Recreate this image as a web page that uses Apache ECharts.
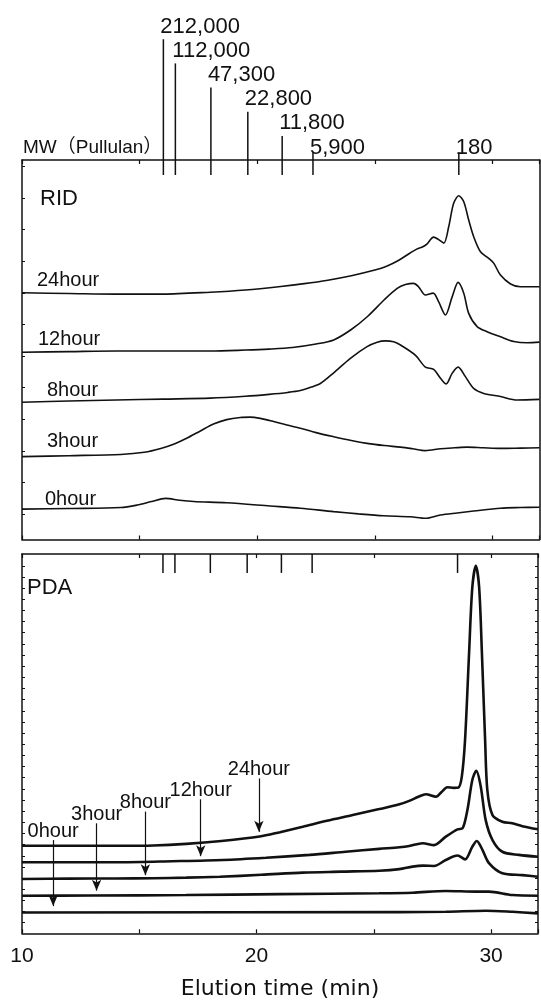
<!DOCTYPE html>
<html>
<head>
<meta charset="utf-8">
<script src="https://cdn.jsdelivr.net/npm/echarts@6/dist/echarts.min.js"></script>
<style>
  html, body { margin: 0; padding: 0; background: #fff; }
  #chart { width: 541px; height: 1003px; }
</style>
</head>
<body>
<div id="chart"></div>
<script>
// pullulan standards: label and elution time (min)
const mwLabels = ["212,000", "112,000", "47,300", "22,800", "11,800", "5,900", "180"];
const mwTimes = [16.01, 16.52, 18.03, 19.6, 21.06, 22.37, 28.57];
const mwLevels = [0, 1, 2, 3, 4, 5, 5];

const hours = ["0hour", "3hour", "8hour", "12hour", "24hour"];

// RID traces, [time (min), signal]
const rid24h = [[10,78.0],[12,77.8],[14,77.6],[16,77.6],[18,78.2],[19.5,78.9],[21,80.0],[22,80.9],[23,82.0],[24,83.4],[25,85.2],[25.5,86.4],[26,88.2],[26.5,90.6],[26.8,91.9],[27.0,92.4],[27.2,93.3],[27.5,95.6],[27.7,94.9],[27.93,93.7],[28.14,98.9],[28.35,106.3],[28.57,108.7],[28.78,106.8],[28.99,101.0],[29.2,95.8],[29.49,91.0],[29.84,88.9],[30.06,87.3],[30.34,83.6],[30.77,80.8],[31.19,79.9],[32,79.9]];
const rid12h = [[10,59.2],[12,59.4],[14,59.6],[16,59.6],[18,59.6],[19.5,59.9],[20.5,60.2],[21.5,60.7],[22.5,61.8],[23.25,63.1],[24,66.4],[24.7,70.6],[25.4,75.8],[25.95,79.4],[26.3,80.6],[26.65,81.0],[26.86,79.9],[27.15,77.3],[27.48,77.9],[27.71,75.2],[28.0,71.0],[28.29,76.8],[28.54,81.3],[28.78,77.9],[28.99,71.5],[29.35,67.3],[29.77,65.7],[30.34,64.1],[30.91,62.6],[31.48,62.2],[32,62.4]];
const rid8h = [[10,43.4],[12,43.8],[14,44.1],[16,44.4],[18,44.7],[19.5,45.3],[20.5,45.9],[21.3,46.5],[21.83,47.1],[22.3,48.2],[22.7,49.4],[23.25,52.7],[23.96,57.3],[24.67,61.0],[25.1,62.4],[25.45,62.8],[25.8,62.5],[26.09,61.5],[26.72,58.3],[27.15,54.5],[27.5,53.8],[27.79,51.0],[28.03,49.2],[28.29,52.6],[28.54,54.5],[28.85,51.5],[29.2,47.8],[29.63,46.2],[30.34,45.2],[31.05,44.1],[32,44.3]];
const rid3h = [[10,26.2],[12,26.5],[14.2,26.9],[15.2,27.6],[15.9,28.8],[16.5,30.3],[17.0,32.0],[17.6,34.4],[18.14,36.5],[18.7,37.9],[19.28,38.6],[19.7,38.7],[20.13,38.3],[20.7,37.3],[21.26,36.2],[21.83,35.2],[22.5,33.8],[23.25,32.5],[24.0,31.3],[24.67,30.4],[25.4,29.7],[26.09,29.2],[26.6,28.7],[27.15,28.1],[27.79,28.7],[28.4,29.0],[28.92,29.2],[29.6,29.0],[30.34,28.8],[31.2,28.9],[32,29.0]];
const rid0h = [[10,9.6],[12,9.8],[14.2,10.1],[14.9,10.9],[15.5,12.0],[16.1,13.0],[16.7,12.4],[17.3,12.0],[18.7,11.6],[20.55,10.6],[21.83,9.9],[23.25,8.8],[24.3,8.1],[25.37,7.5],[26.51,7.2],[27.15,6.7],[27.79,7.75],[28.5,8.4],[29.2,9.0],[30.34,9.9],[31.2,10.1],[32,10.2]];

// PDA traces, [time (min), absorbance]
const pda24h = [[10,27.7],[12,27.7],[14.2,27.7],[15.6,27.8],[17.0,28.3],[18.5,29.2],[20.13,30.6],[21.0,32.0],[21.97,33.7],[23.0,35.6],[24.1,37.4],[25.23,39.3],[26.09,40.8],[26.51,41.9],[26.9,43.2],[27.22,44.0],[27.65,43.2],[27.9,44.8],[28.14,46.2],[28.4,46.0],[28.6,46.1],[28.75,49.5],[28.89,61.2],[29.06,88.4],[29.2,109.5],[29.35,116.3],[29.49,109.5],[29.61,88.4],[29.745,61.2],[29.84,45.3],[30.06,37.4],[30.48,35.3],[30.9,34.8],[31.33,33.9],[32,32.9]];
const pda12h = [[10,22.5],[12,22.5],[14.2,22.5],[16.4,22.8],[18.57,23.2],[20.4,23.9],[22.26,24.8],[23.8,25.8],[25.23,26.7],[26.09,27.2],[26.51,27.6],[27.08,28.5],[27.57,27.9],[28.07,30.6],[28.57,32.9],[28.78,33.2],[28.99,39.0],[29.2,48.5],[29.37,51.4],[29.56,46.4],[29.77,35.8],[30.06,29.5],[30.48,25.8],[31.19,24.8],[32,24.2]];
const pda8h = [[10,17.2],[12,17.3],[14,17.35],[15.6,17.4],[17.0,17.6],[18.43,17.9],[20.2,18.5],[21.97,19.2],[23.6,19.5],[25.23,19.8],[26.09,20.3],[26.65,21.1],[27.1,21.4],[27.57,21.3],[28.07,23.2],[28.57,24.6],[28.89,23.4],[29.2,27.4],[29.39,29.2],[29.63,26.4],[29.91,22.2],[30.48,19.0],[31.33,18.4],[32,17.9]];
const pda3h = [[10,11.9],[13,11.95],[17.0,12.1],[21,12.4],[25.23,12.65],[26.65,12.85],[28.07,13.4],[29.35,13.2],[29.91,13.2],[30.91,12.1],[32,11.9]];
const pda0h = [[10,6.6],[26.09,6.7],[28.07,6.8],[29.77,7.15],[30.91,6.8],[32,6.3]];

// PDA annotation arrows (0hour .. 24hour)
const arrowTimes = [11.33, 13.18, 15.26, 17.62, 20.1];
const arrowFrom = [29.5, 34.8, 38.5, 42.4, 49.0];
const arrowTo = [8.6, 13.5, 18.4, 24.4, 32.1];

const FONT = '"Liberation Sans", "Noto Sans CJK JP", sans-serif';
const INK = '#111';

const ridTicks = [];
for (let k = 0; k < 12; k++) ridTicks.push(8 + 10 * k);
const pdaTicks = [];
for (let k = 0; k < 33; k++) pdaTicks.push(3.35 + 3.529 * k);

function frameX(grid, pos, extra) {
  return Object.assign({
    type: 'value', gridIndex: grid, position: pos, min: 10, max: 32, interval: 5,
    axisLine: { onZero: false, lineStyle: { color: INK, width: 1.5 } },
    axisTick: { inside: true, length: 4, lineStyle: { color: INK, width: 1.2 } },
    axisLabel: { show: false },
    splitLine: { show: false }
  }, extra || {});
}
function frameY(grid, pos, ticks) {
  return {
    type: 'value', gridIndex: grid, position: pos, min: 0, max: 120,
    axisLine: { show: true, onZero: false, lineStyle: { color: INK, width: 1.5 } },
    axisTick: ticks ? { show: true, inside: true, length: 3, customValues: ticks, lineStyle: { color: INK, width: 1 } } : { show: false },
    axisLabel: { show: false, customValues: ticks || [] },
    splitLine: { show: false }
  };
}

function trace(data, x, y, w) {
  return {
    type: 'line', xAxisIndex: x, yAxisIndex: y, data: data,
    symbol: 'none', smooth: 0.3,
    lineStyle: { color: INK, width: w }, silent: true
  };
}

const pdaSeries = [pda0h, pda3h, pda8h, pda12h, pda24h].map((d, i) => {
  const s = trace(d, 3, 3, 2.6);
  s.markLine = {
    silent: true, symbol: ['none', 'arrow'], symbolSize: [7, 11],
    lineStyle: { color: INK, width: 1.2, type: 'solid' },
    label: { show: true, position: 'start', formatter: '{b}', color: INK, fontSize: 20, fontFamily: FONT, distance: -1 },
    emphasis: { disabled: true },
    data: [[{ name: hours[i], coord: [arrowTimes[i], arrowFrom[i]] }, { coord: [arrowTimes[i], arrowTo[i]] }]]
  };
  return s;
});

const ridLabelPos = [[37, 280.5, '24hour'], [38, 339.5, '12hour'], [47, 390.5, '8hour'], [47, 441, '3hour'], [45, 499.5, '0hour']];

const option = {
  animation: false,
  backgroundColor: '#fff',
  grid: [
    { left: 22, right: 1.5, top: 0, height: 175 },
    { left: 22, right: 1.5, top: 160, height: 379.5 },
    { left: 22, right: 1.5, top: 554, height: 379.3 }
  ],
  xAxis: [
    { type: 'value', gridIndex: 0, min: 10, max: 32, show: false },
    frameX(1, 'bottom'),
    frameX(1, 'top'),
    frameX(2, 'bottom', {
      axisLabel: { show: true, margin: 12, color: INK, fontSize: 21, fontFamily: FONT,
        formatter: v => (v % 10 === 0 ? String(v) : '') },
      name: 'Elution time (min)', nameLocation: 'middle', nameGap: 45,
      nameTextStyle: { color: INK, fontSize: 22, fontFamily: '"DejaVu Sans", sans-serif' }
    }),
    frameX(2, 'top')
  ],
  yAxis: [
    { type: 'value', gridIndex: 0, min: 0, max: 175 / 24.2, inverse: true, show: false },
    frameY(1, 'left', ridTicks),
    frameY(1, 'right', null),
    frameY(2, 'left', pdaTicks),
    frameY(2, 'right', pdaTicks)
  ],
  graphic: [
    { type: 'text', x: 23, y: 147.5, style: { text: 'MW（Pullulan）', font: '19px ' + FONT, fill: INK, verticalAlign: 'middle' } },
    { type: 'text', x: 40, y: 199, style: { text: 'RID', font: '22px ' + FONT, fill: INK, verticalAlign: 'middle' } },
    { type: 'text', x: 27, y: 588, style: { text: 'PDA', font: '22px ' + FONT, fill: INK, verticalAlign: 'middle' } }
  ].concat(ridLabelPos.map(p => ({
    type: 'text', x: p[0], y: p[1], style: { text: p[2], font: '20px ' + FONT, fill: INK, verticalAlign: 'middle' }
  }))),
  series: [
    {
      // MW marker lines with their labels above the RID panel
      type: 'custom', xAxisIndex: 0, yAxisIndex: 0, silent: true,
      data: mwTimes.map((t, i) => [t, mwLevels[i]]),
      renderItem: function (params, api) {
        const t = api.value(0), lvl = api.value(1);
        const top = api.coord([t, Math.min(lvl + 1.62, 6.3)]);
        const bot = api.coord([t, 175 / 24.2]);
        const lab = api.coord([t, lvl + 1.1]);
        return {
          type: 'group', children: [
            { type: 'line', shape: { x1: top[0], y1: top[1], x2: bot[0], y2: bot[1] }, style: { stroke: INK, lineWidth: 1.5 } },
            { type: 'text', x: lab[0] - 3, y: lab[1], style: { text: mwLabels[params.dataIndex], font: '22px ' + FONT, fill: INK, verticalAlign: 'middle', align: 'left' } }
          ]
        };
      }
    },
    {
      // MW ticks at the top of the PDA panel
      type: 'custom', xAxisIndex: 3, yAxisIndex: 3, silent: true,
      data: mwTimes.map(t => [t, 120]),
      renderItem: function (params, api) {
        const t = api.value(0);
        const a = api.coord([t, 120]);
        const b = api.coord([t, 114]);
        return { type: 'line', shape: { x1: a[0], y1: a[1], x2: b[0], y2: b[1] }, style: { stroke: INK, lineWidth: 1.5 } };
      }
    },
    trace(rid24h, 1, 1, 1.6),
    trace(rid12h, 1, 1, 1.6),
    trace(rid8h, 1, 1, 1.6),
    trace(rid3h, 1, 1, 1.6),
    trace(rid0h, 1, 1, 1.6)
  ].concat(pdaSeries)
};

echarts.init(document.getElementById('chart'), null, { renderer: 'canvas' }).setOption(option);
</script>
</body>
</html>
